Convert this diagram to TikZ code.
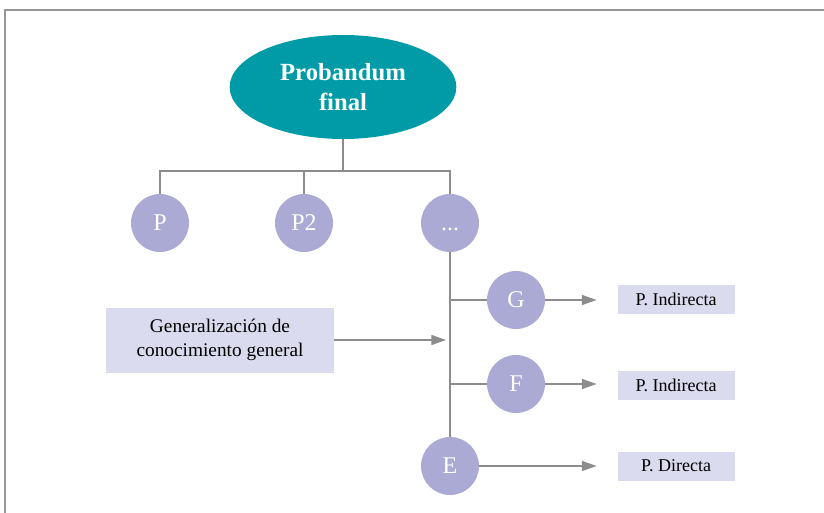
\documentclass[tikz,border=0pt]{standalone}
\usepackage{fontspec}
\setmainfont{Liberation Serif}
\usetikzlibrary{shapes.geometric,arrows.meta}

\definecolor{tealfinal}{RGB}{0,155,166}
\definecolor{lilac}{RGB}{171,170,212}
\definecolor{paleblue}{RGB}{219,219,239}
\definecolor{linegray}{RGB}{140,140,140}
\definecolor{framegray}{RGB}{150,150,150}

\tikzset{
    prueba/.style={circle, fill=lilac, minimum size=43.5pt, inner sep=0pt, text=white, font=\fontsize{18}{20}\selectfont},
    caja/.style={fill=paleblue, inner sep=0pt, font=\fontsize{13.5}{16}\selectfont},
    enlace/.style={draw=linegray, line width=1.1pt},
    flecha/.style={enlace, -{Triangle[length=11pt, width=7.5pt]}}
}

\begin{document}
\begin{tikzpicture}[x=0.75pt, y=-0.75pt]
    \useasboundingbox (0,0) rectangle (824,513);
    % Frame of the page
    \draw[framegray, line width=1.5pt] (5,513) -- (5,10) -- (824,10);

    % Top of the tree
    \node[ellipse, fill=tealfinal, minimum width=170pt, minimum height=78pt, text=white, align=center, font=\bfseries\fontsize{18.5}{22.5}\selectfont] (final) at (343,87) {Probandum\\final};

    % First level of evidence
    \node[prueba] (P) at (160,223) {P};
    \node[prueba] (P2) at (304,223) {P2};
    \node[prueba] (dots) at (450,223) {\vphantom{P}...};
    \coordinate (bar) at (343,171);
    \draw[enlace] (final.south) -- (bar);
    \draw[enlace] (P.north) |- (bar) -| (dots.north);
    \draw[enlace] (P2.north) -- (P2.north |- bar);

    % Chain below the dots
    \node[prueba] (G) at (516,300) {G};
    \node[prueba] (F) at (516,384) {F};
    \node[prueba] (E) at (450,466) {E};
    \draw[enlace] (dots.south) -- (E.north);
    \draw[enlace] (G.west) -- (G.west -| dots.south);
    \draw[enlace] (F.west) -- (F.west -| dots.south);

    % Boxes with the kind of proof
    \node[caja, minimum width=87.75pt, minimum height=21.75pt] (indG) at (676,299) {P. Indirecta};
    \node[caja, minimum width=87.75pt, minimum height=21.75pt] (indF) at (676,385) {P. Indirecta};
    \node[caja, minimum width=87.75pt, minimum height=21.75pt] (dirE) at (676,466) {P. Directa};
    \draw[flecha, shorten >=15.5pt] (G.east) -- (G.east -| indG.west);
    \draw[flecha, shorten >=15.5pt] (F.east) -- (F.east -| indF.west);
    \draw[flecha, shorten >=15.5pt] (E.east) -- (E.east -| dirE.west);

    % Generalization coming into the chain
    \node[caja, minimum width=171pt, minimum height=48.75pt, align=center, font=\fontsize{14.5}{18.5}\selectfont] (gen) at (220,340) {Generalización de\\conocimiento general};
    \draw[flecha, shorten >=3pt] (gen.east) -- (gen.east -| dots.south);
\end{tikzpicture}
\end{document}
